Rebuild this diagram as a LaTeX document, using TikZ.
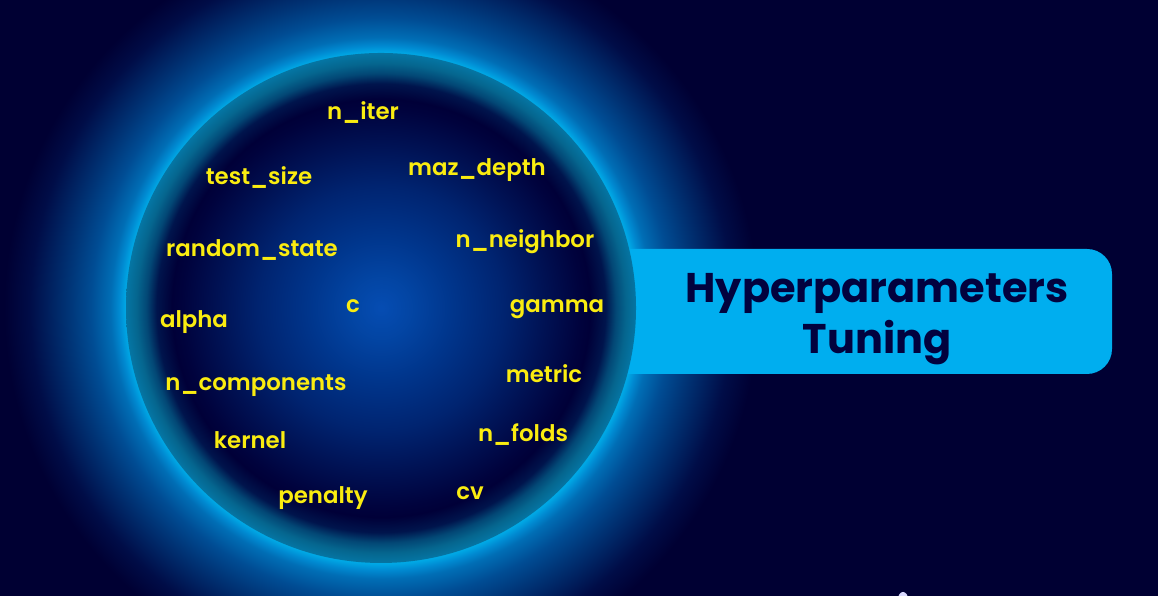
\documentclass[tikz,border=0pt]{standalone}
\usepackage{fontspec}
\setmainfont{Poppins}
\newfontfamily\paramfont{Poppins SemiBold}
\definecolor{navybg}{RGB}{0,0,51}
\definecolor{tabblue}{RGB}{0,174,239}
\definecolor{titlenavy}{RGB}{2,2,62}
\definecolor{paramyellow}{RGB}{250,236,16}
% r in the shadings: 25bp is the rim of the circle
\pgfdeclareradialshading{glowshade}{\pgfpointorigin}{%
  rgb(0bp)=(0,.66,.9);
  rgb(16.8bp)=(0,.66,.9);
  rgb(17.25bp)=(0,.54,.82);
  rgb(17.8bp)=(0,.43,.71);
  rgb(19.1bp)=(0,.30,.58);
  rgb(20.5bp)=(0,.21,.47);
  rgb(23.1bp)=(0,.05,.28);
  rgb(24.8bp)=(0,0,.2);
  rgb(50bp)=(0,0,.2)}
\pgfdeclareradialshading{discshade}{\pgfpointorigin}{%
  rgb(0bp)=(.02,.30,.70);
  rgb(3bp)=(.01,.27,.64);
  rgb(7bp)=(0,.21,.55);
  rgb(12bp)=(0,.14,.44);
  rgb(16bp)=(0,.07,.33);
  rgb(19.5bp)=(0,.01,.24);
  rgb(20.5bp)=(0,0,.22);
  rgb(22bp)=(0,.08,.30);
  rgb(23bp)=(.01,.28,.46);
  rgb(24bp)=(.02,.40,.56);
  rgb(25bp)=(.02,.46,.64);
  rgb(50bp)=(.02,.46,.64)}
\tikzset{
  param/.style={text=paramyellow,font=\fontsize{6.5}{8}\paramfont,inner sep=0pt},
  title/.style={text=titlenavy,font=\fontsize{11.8}{14.7}\selectfont\bfseries,align=center,inner sep=0pt}
}
\begin{document}
\begin{tikzpicture}[scale = 1]
    \useasboundingbox (0,0) rectangle (11.58,5.96);
    \clip (0,0) rectangle (11.58,5.96);
    \fill[navybg] (0,0) rectangle (11.58,5.96);
    \shade[shading=glowshade] (3.81,2.88) circle (3.8cm);
    % tab behind the disc
    \fill[tabblue] (5,2.22) -- (10.87,2.22) arc (-90:0:0.25) -- (11.12,3.22) arc (0:90:0.25) -- (5,3.47) -- cycle;
    \shade[shading=discshade] (3.81,2.88) circle (2.55cm);
    \fill[white!85!blue] (9.03,-0.03) ellipse (0.05 and 0.07);
    \node[title] (title) at (8.77,2.77) {Hyperparameters\\Tuning};
    \node[param] (niter) at (3.63,4.83) {n\_iter};
    \node[param] (testsize) at (2.59,4.18) {test\_size};
    \node[param] (mazdepth) at (4.77,4.26) {maz\_depth};
    \node[param] (randomstate) at (2.52,3.46) {random\_state};
    \node[param] (nneighbor) at (5.25,3.54) {n\_neighbor};
    \node[param] (cparam) at (3.53,2.9) {c};
    \node[param] (gamma) at (5.57,2.87) {gamma};
    \node[param] (alpha) at (1.94,2.74) {alpha};
    \node[param] (ncomponents) at (2.56,2.1) {n\_components};
    \node[param] (metric) at (5.44,2.22) {metric};
    \node[param] (kernel) at (2.5,1.56) {kernel};
    \node[param] (nfolds) at (5.23,1.61) {n\_folds};
    \node[param] (penalty) at (3.23,0.98) {penalty};
    \node[param] (cv) at (4.7,1.03) {cv};
\end{tikzpicture}
\end{document}
